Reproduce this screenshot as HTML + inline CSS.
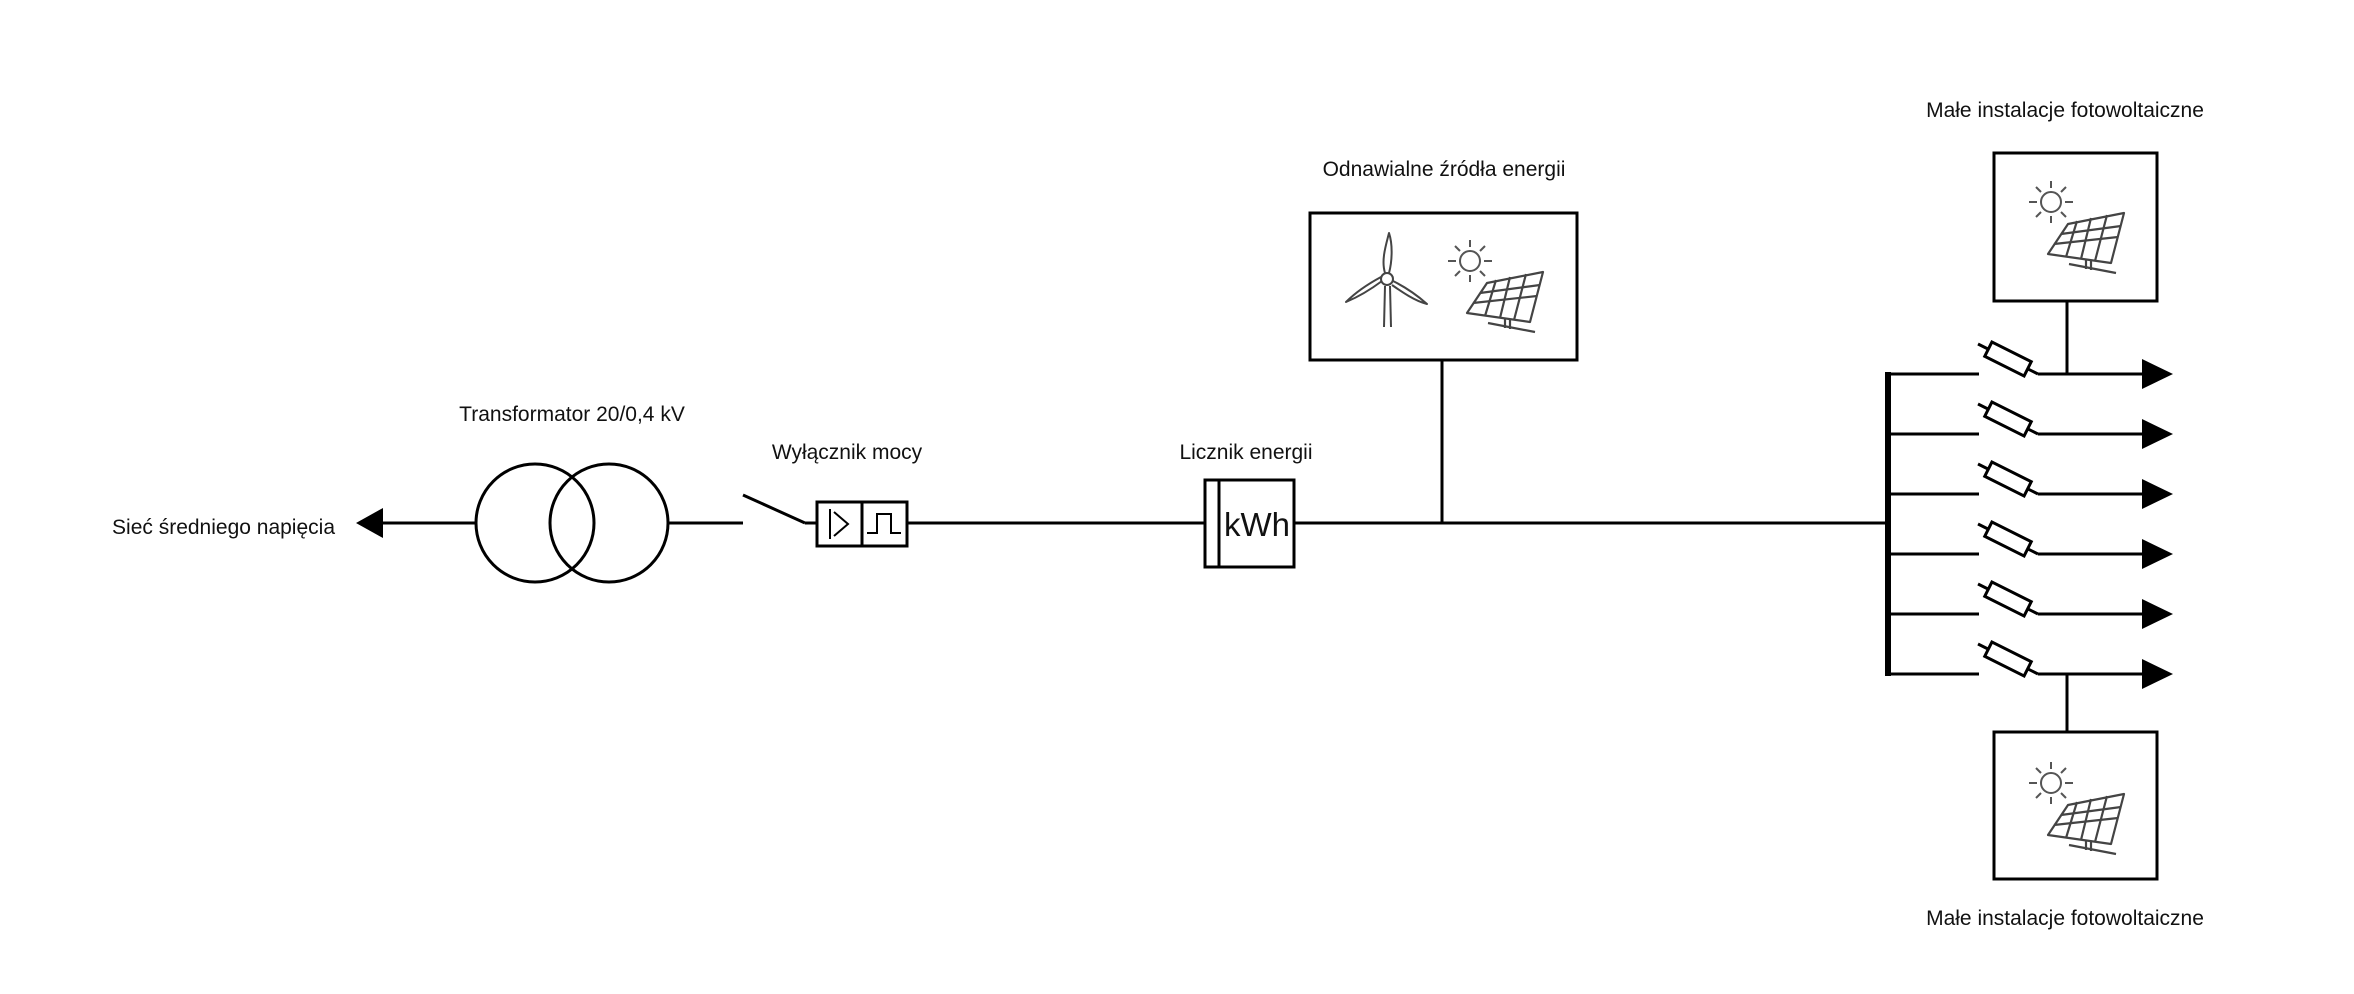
<!DOCTYPE html>
<html><head><meta charset="utf-8"><style>
html,body{margin:0;padding:0;background:#fff;}
svg{display:block;}
text{font-family:"Liberation Sans",sans-serif;fill:#111;}
</style></head><body>
<svg width="2354" height="994" viewBox="0 0 2354 994" xmlns="http://www.w3.org/2000/svg">
<defs>
<g id="sun" stroke="#555" stroke-width="2" fill="none">
<circle cx="0" cy="0" r="10"/>
<line x1="0" y1="-14" x2="0" y2="-21"/><line x1="0" y1="14" x2="0" y2="21"/>
<line x1="-14" y1="0" x2="-22" y2="0"/><line x1="14" y1="0" x2="22" y2="0"/>
<line x1="-10" y1="-10" x2="-15" y2="-15"/><line x1="10" y1="-10" x2="15" y2="-15"/>
<line x1="-10" y1="10" x2="-15" y2="15"/><line x1="10" y1="10" x2="15" y2="15"/>
</g>
<g id="panel" stroke="#444" stroke-width="2.2" fill="none" stroke-linejoin="round">
<polygon points="-3,52 17,22 73,11 60,61"/>
<line x1="3" y1="42" x2="67" y2="35"/>
<line x1="10" y1="32" x2="70" y2="24"/>
<line x1="26" y1="19" x2="15" y2="55"/>
<line x1="40" y1="16" x2="30" y2="57"/>
<line x1="56" y1="13" x2="44" y2="59"/>
<line x1="35" y1="57" x2="35" y2="67"/>
<line x1="40" y1="58" x2="40" y2="68"/>
<line x1="18" y1="62" x2="65" y2="71"/>
</g>
<g id="fuse">
<line x1="-30" y1="-15" x2="30" y2="15" stroke="#000" stroke-width="3"/>
<rect x="-22" y="-8" width="44" height="16" fill="#fff" stroke="#000" stroke-width="3" transform="rotate(26.6)"/>
</g>
</defs>

<polygon points="356,523 383,508 383,538" fill="#000"/>
<line x1="383" y1="523" x2="476" y2="523" stroke="#000" stroke-width="3"/>
<circle cx="535" cy="523" r="59" fill="none" stroke="#000" stroke-width="3"/>
<circle cx="609" cy="523" r="59" fill="none" stroke="#000" stroke-width="3"/>
<line x1="668" y1="523" x2="743" y2="523" stroke="#000" stroke-width="3"/>
<line x1="743" y1="495" x2="805" y2="523" stroke="#000" stroke-width="3"/>
<line x1="805" y1="523" x2="817" y2="523" stroke="#000" stroke-width="3"/>
<rect x="817" y="502" width="90" height="44" fill="none" stroke="#000" stroke-width="3"/>
<line x1="862" y1="502" x2="862" y2="546" stroke="#000" stroke-width="3"/>
<polyline points="830,509 830,539" fill="none" stroke="#000" stroke-width="2"/>
<polyline points="834,512 848,524 834,536" fill="none" stroke="#000" stroke-width="2"/>
<polyline points="867,533 877,533 877,514 891,514 891,533 901,533" fill="none" stroke="#000" stroke-width="2"/>
<line x1="907" y1="523" x2="1205" y2="523" stroke="#000" stroke-width="3"/>
<rect x="1205" y="480" width="89" height="87" fill="none" stroke="#000" stroke-width="3"/>
<line x1="1219" y1="480" x2="1219" y2="567" stroke="#000" stroke-width="3"/>
<text x="1257" y="536" font-size="33" text-anchor="middle">kWh</text>
<line x1="1294" y1="523" x2="1886" y2="523" stroke="#000" stroke-width="3"/>
<rect x="1310" y="213" width="267" height="147" fill="none" stroke="#000" stroke-width="3"/>
<line x1="1442" y1="360" x2="1442" y2="523" stroke="#000" stroke-width="3"/>
<g stroke="#444" stroke-width="2" fill="none" stroke-linejoin="round">
<line x1="1385" y1="286" x2="1384" y2="327"/><line x1="1390" y1="286" x2="1391" y2="327"/>
<circle cx="1387" cy="279" r="6"/>
<path d="M1385,273 C1381,260 1386,245 1389,233 C1393,245 1392,262 1389,273"/>
<path d="M1382,281 C1370,290 1358,297 1346,302 C1355,293 1368,284 1381,277"/>
<path d="M1393,281 C1405,287 1418,296 1427,304 C1415,301 1402,292 1392,285"/>
</g>
<use href="#sun" x="1470" y="261"/>
<use href="#panel" x="1470" y="261"/>
<line x1="1888" y1="372" x2="1888" y2="676" stroke="#000" stroke-width="6"/>
<g stroke="#000" stroke-width="3">
<line x1="1886" y1="374" x2="1979" y2="374"/><line x1="2038" y1="374" x2="2142" y2="374"/>
<line x1="1886" y1="434" x2="1979" y2="434"/><line x1="2038" y1="434" x2="2142" y2="434"/>
<line x1="1886" y1="494" x2="1979" y2="494"/><line x1="2038" y1="494" x2="2142" y2="494"/>
<line x1="1886" y1="554" x2="1979" y2="554"/><line x1="2038" y1="554" x2="2142" y2="554"/>
<line x1="1886" y1="614" x2="1979" y2="614"/><line x1="2038" y1="614" x2="2142" y2="614"/>
<line x1="1886" y1="674" x2="1979" y2="674"/><line x1="2038" y1="674" x2="2142" y2="674"/>
</g>
<use href="#fuse" x="2008" y="359"/>
<use href="#fuse" x="2008" y="419"/>
<use href="#fuse" x="2008" y="479"/>
<use href="#fuse" x="2008" y="539"/>
<use href="#fuse" x="2008" y="599"/>
<use href="#fuse" x="2008" y="659"/>
<g fill="#000">
<polygon points="2142,359 2173,374 2142,389"/>
<polygon points="2142,419 2173,434 2142,449"/>
<polygon points="2142,479 2173,494 2142,509"/>
<polygon points="2142,539 2173,554 2142,569"/>
<polygon points="2142,599 2173,614 2142,629"/>
<polygon points="2142,659 2173,674 2142,689"/>
</g>
<rect x="1994" y="153" width="163" height="148" fill="none" stroke="#000" stroke-width="3"/>
<line x1="2067" y1="301" x2="2067" y2="374" stroke="#000" stroke-width="3"/>
<use href="#sun" x="2051" y="202"/>
<use href="#panel" x="2051" y="202"/>
<rect x="1994" y="732" width="163" height="147" fill="none" stroke="#000" stroke-width="3"/>
<line x1="2067" y1="674" x2="2067" y2="732" stroke="#000" stroke-width="3"/>
<use href="#sun" x="2051" y="783"/>
<use href="#panel" x="2051" y="783"/>
<text x="335" y="534" font-size="21" text-anchor="end">Sieć średniego napięcia</text>
<text x="572" y="421" font-size="21" text-anchor="middle">Transformator 20/0,4 kV</text>
<text x="847" y="459" font-size="21" text-anchor="middle">Wyłącznik mocy</text>
<text x="1246" y="459" font-size="21" text-anchor="middle">Licznik energii</text>
<text x="1444" y="176" font-size="21" text-anchor="middle">Odnawialne źródła energii</text>
<text x="2065" y="117" font-size="21" text-anchor="middle">Małe instalacje fotowoltaiczne</text>
<text x="2065" y="925" font-size="21" text-anchor="middle">Małe instalacje fotowoltaiczne</text>
</svg>
</body></html>
